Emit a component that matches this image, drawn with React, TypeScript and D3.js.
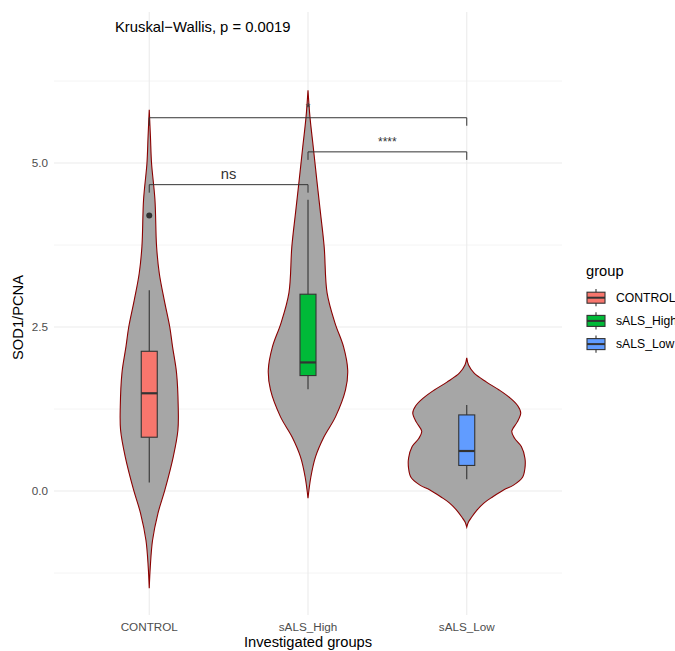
import React from "react";
import * as d3 from "d3";

const groups = ["CONTROL", "sALS_High", "sALS_Low"];
const groupColors = ["#F8766D", "#00BA38", "#619CFF"];

// violin outlines: value and relative half-width
const controlViolinV = [5.81, 5.4, 5.0, 4.44, 3.73, 3.32, 2.91, 2.5, 2.2, 1.8, 1.28, 0.93, 0.52, 0.02, -0.34, -0.75, -1.16, -1.48];
const controlViolinW = [0, 0.02, 0.038, 0.095, 0.122, 0.167, 0.25, 0.342, 0.388, 0.455, 0.483, 0.478, 0.4, 0.262, 0.145, 0.055, 0.017, 0];
const highViolinV = [6.11, 5.7, 5.24, 4.74, 4.24, 3.72, 3.02, 2.56, 2.2, 1.84, 1.54, 1.13, 0.82, 0.52, 0.21, -0.11];
const highViolinW = [0, 0.033, 0.088, 0.147, 0.208, 0.27, 0.318, 0.45, 0.592, 0.662, 0.625, 0.458, 0.263, 0.125, 0.047, 0];
const lowViolinV = [2.03, 1.92, 1.8, 1.66, 1.54, 1.42, 1.3, 1.19, 1.05, 0.91, 0.8, 0.68, 0.5, 0.35, 0.21, 0.09, 0.02, -0.09, -0.18, -0.29, -0.4, -0.47, -0.55];
const lowViolinW = [0, 0.03, 0.12, 0.33, 0.54, 0.72, 0.85, 0.9, 0.84, 0.75, 0.8, 0.91, 0.97, 0.97, 0.93, 0.78, 0.62, 0.43, 0.29, 0.17, 0.08, 0.03, 0];

// box plot stats: [whiskerLow, Q1, median, Q3, whiskerHigh]
const controlBox = [0.13, 0.82, 1.49, 2.13, 3.06];
const highBox = [1.55, 1.76, 1.96, 3.0, 4.44];
const lowBox = [0.18, 0.39, 0.61, 1.16, 1.31];
const controlOutliers = [4.2];

const yTicks = [0, 2.5, 5];
const yMinorTicks = [-1.25, 1.25, 3.75, 6.25];
const yTickLabels = ["0.0", "2.5", "5.0"];

// comparisons: [group1, group2, bracket value, label]
const compGroup1 = ["CONTROL", "CONTROL", "sALS_High"];
const compGroup2 = ["sALS_High", "sALS_Low", "sALS_Low"];
const compY = [4.67, 5.69, 5.17];
const compLabels = ["ns", "*", "****"];
const kwText = "Kruskal\u2212Wallis, p = 0.0019";
const kwValue = 7.0;

const W = 675, H = 651;
const panel = { left: 54, right: 562, top: 12, bottom: 615 };
const font = "'Liberation Sans', Arial, sans-serif";

export default function App() {
  const x = d3.scalePoint<string>().domain(groups).range([panel.left, panel.right]).padding(0.6);
  const y = d3.scaleLinear().domain([-1.89, 7.302]).range([panel.bottom, panel.top]);
  const w = d3.scaleLinear().domain([0, 1]).range([0, 60]);
  const boxHalf = 8;

  const violins = [
    { v: controlViolinV, w: controlViolinW },
    { v: highViolinV, w: highViolinW },
    { v: lowViolinV, w: lowViolinW },
  ];
  const boxes = [controlBox, highBox, lowBox];

  const grey92 = "#EBEBEB";

  return (
    <svg width={W} height={H} style={{ position: "absolute", left: 0, top: 0, background: "#fff" }} fontFamily={font}>
      <rect width={W} height={H} fill="#fff" />
      {/* grid */}
      {yMinorTicks.map((t) => (
        <line key={"mn" + t} x1={panel.left} x2={panel.right} y1={y(t)} y2={y(t)} stroke={grey92} strokeWidth={0.55} />
      ))}
      {yTicks.map((t) => (
        <line key={"mj" + t} x1={panel.left} x2={panel.right} y1={y(t)} y2={y(t)} stroke={grey92} strokeWidth={1.1} />
      ))}
      {groups.map((g) => (
        <line key={"vg" + g} x1={x(g)!} x2={x(g)!} y1={panel.top} y2={panel.bottom} stroke={grey92} strokeWidth={1.1} />
      ))}
      {/* violins */}
      {groups.map((g, i) => {
        const cx = x(g)!;
        const pts = violins[i].v.map((v, j) => ({ v, w: violins[i].w[j] }));
        const area = d3
          .area<{ v: number; w: number }>()
          .y((d) => y(d.v))
          .x0((d) => cx - w(d.w))
          .x1((d) => cx + w(d.w))
          .curve(d3.curveCatmullRom);
        return <path key={"vi" + g} d={area(pts)!} fill="#A6A6A6" stroke="#8B0000" strokeWidth={1.1} />;
      })}
      {/* boxes */}
      {groups.map((g, i) => {
        const cx = x(g)!;
        const [lo, q1, med, q3, hi] = boxes[i];
        return (
          <g key={"bx" + g} stroke="#333333">
            <line x1={cx} x2={cx} y1={y(hi)} y2={y(q3)} strokeWidth={1.1} />
            <line x1={cx} x2={cx} y1={y(q1)} y2={y(lo)} strokeWidth={1.1} />
            <rect x={cx - boxHalf} width={boxHalf * 2} y={y(q3)} height={y(q1) - y(q3)} fill={groupColors[i]} strokeWidth={1.1} />
            <line x1={cx - boxHalf} x2={cx + boxHalf} y1={y(med)} y2={y(med)} strokeWidth={2.2} />
          </g>
        );
      })}
      {controlOutliers.map((o, i) => (
        <circle key={"o" + i} cx={x("CONTROL")!} cy={y(o)} r={3} fill="#333333" />
      ))}
      {/* brackets */}
      {compLabels.map((lab, i) => {
        const x1 = x(compGroup1[i])!;
        const x2 = x(compGroup2[i])!;
        const yy = y(compY[i]);
        const tick = 8;
        const isStar = lab.startsWith("*");
        return (
          <g key={"br" + i}>
            <path d={`M${x1},${yy + tick}V${yy}H${x2}V${yy + tick}`} fill="none" stroke="#333333" strokeWidth={1} />
            <text x={(x1 + x2) / 2} y={yy - (isStar ? 6 : 5.5)} textAnchor="middle" fontSize={isStar ? 12 : 14.7} fill="#333333">
              {lab}
            </text>
          </g>
        );
      })}
      <text x={115} y={y(kwValue)} fontSize={14.8} fill="#000">{kwText}</text>
      {/* y axis */}
      {yTicks.map((t, i) => (
        <text key={"yt" + t} x={48} y={y(t) + 4.3} textAnchor="end" fontSize={11.7} fill="#4D4D4D">
          {yTickLabels[i]}
        </text>
      ))}
      <text transform={`translate(23,${(panel.top + panel.bottom) / 2 + 4}) rotate(-90)`} textAnchor="middle" fontSize={14.7} fill="#000">
        SOD1/PCNA
      </text>
      {/* x axis */}
      {groups.map((g) => (
        <text key={"xt" + g} x={x(g)!} y={631} textAnchor="middle" fontSize={11.7} fill="#4D4D4D">
          {g}
        </text>
      ))}
      <text x={(panel.left + panel.right) / 2} y={647} textAnchor="middle" fontSize={14.7} fill="#000">
        Investigated groups
      </text>
      {/* legend */}
      <text x={586} y={276} fontSize={14.7} fill="#000">group</text>
      {groups.map((g, i) => {
        const cy = 297.7 + i * 23.2;
        return (
          <g key={"lg" + g}>
            <line x1={596} x2={596} y1={cy - 8.6} y2={cy + 8.6} stroke="#333333" strokeWidth={1.1} />
            <rect x={587} y={cy - 5.5} width={18} height={11} fill={groupColors[i]} stroke="#333333" strokeWidth={1.1} />
            <line x1={587} x2={605} y1={cy} y2={cy} stroke="#333333" strokeWidth={2} />
            <text x={616} y={cy + 4.2} fontSize={12.2} fill="#000">{g}</text>
          </g>
        );
      })}
    </svg>
  );
}
